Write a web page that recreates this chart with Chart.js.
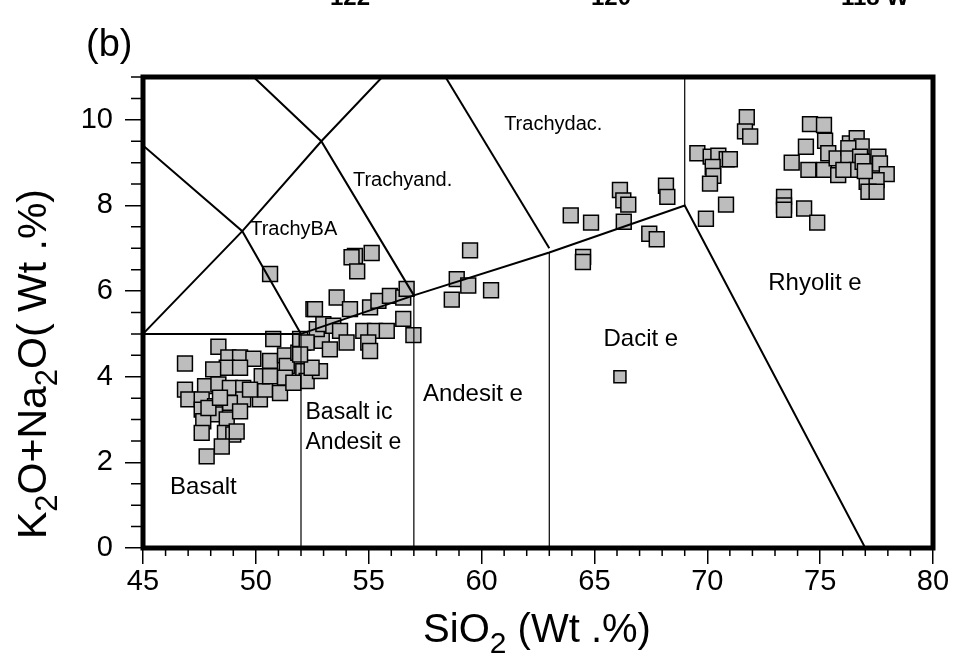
<!DOCTYPE html>
<html>
<head>
<meta charset="utf-8">
<script src="https://cdn.jsdelivr.net/npm/chart.js@4.4.1/dist/chart.umd.min.js"></script>
<style>
  html, body { margin: 0; padding: 0; background: #fff; }
</style>
</head>
<body>
<canvas id="tas" width="956" height="657"></canvas>
<script>
// sample analyses: SiO2 (wt.%) and K2O+Na2O (wt.%)
const sio2 = [
  48.34, 46.86, 48.78, 49.3, 49.89, 50.63, 51.29, 51.37, 51.88, 52.1, 52.1, 52.25, 52.84, 52.92, 52.7, 50.77,
  48.71, 48.11, 47.75, 46.86, 47.01, 47.6, 48.34, 48.85, 49.44, 49.44, 48.85, 48.19, 47.6, 48.19, 47.67, 48.71,
  49.3, 50.18, 50.41, 51.07, 50.26, 50.63, 51.29, 51.66, 47.6, 48.63, 49.0, 48.49, 47.82, 47.9, 49.15, 48.41,
  49.3, 49.74, 52.47,
  55.13, 54.39, 54.24, 54.49, 59.49, 58.9, 59.41, 58.68, 53.58, 52.55, 54.17, 55.06, 55.43, 55.94, 56.53, 56.68,
  56.53, 56.98, 52.99, 53.43, 53.73, 54.76, 55.28, 55.8, 54.02, 54.98, 55.06, 53.28, 51.96, 52.25, 51.96, 52.62,
  50.63, 60.42,
  66.13, 66.28, 66.5, 68.17, 68.23, 63.95, 64.85, 66.3, 67.43, 67.76, 64.5, 64.49,
  71.75, 71.67, 71.9, 69.56, 70.15, 70.49, 70.86, 71.0, 70.24, 70.27, 70.12, 70.83, 69.94,
  74.55, 75.17, 74.37, 75.22, 73.74, 74.48, 75.17, 75.36, 75.73, 75.8, 76.32, 76.62, 76.84, 76.25, 76.25, 76.77,
  76.62, 76.88, 77.58, 77.65, 77.95, 77.06, 77.5, 77.14, 77.5, 76.98, 76.03, 73.4, 73.4, 73.4, 74.29, 74.87
];
const alkali = [
  4.70, 4.31, 4.45, 4.45, 4.42, 4.37, 4.5, 4.25, 4.56, 4.80, 4.13, 3.9, 4.13, 4.84, 5.11, 4.88,
  4.21, 4.17, 3.78, 3.70, 3.47, 3.47, 3.82, 3.74, 3.74, 3.47, 3.39, 3.31, 3.23, 3.12, 2.96, 3.0,
  3.19, 3.47, 3.70, 3.62, 4.01, 4.01, 3.98, 3.86, 2.69, 2.69, 2.65, 2.37, 2.14, 3.27, 2.72, 3.51,
  4.21, 3.70, 4.21,
  6.89, 6.82, 6.79, 6.46, 6.95, 6.28, 6.13, 5.80, 5.85, 5.58, 5.58, 5.62, 5.77, 5.89, 5.85, 6.05,
  5.35, 4.97, 5.23, 5.19, 5.07, 5.07, 5.07, 5.07, 4.80, 4.80, 4.60, 4.64, 4.88, 4.80, 4.52, 5.58,
  6.4, 6.02,
  8.36, 8.12, 8.02, 8.46, 8.2, 7.77, 7.60, 7.62, 7.34, 7.21, 6.80, 6.68,
  10.06, 9.73, 9.61, 9.22, 9.14, 9.16, 9.08, 9.08, 8.9, 8.69, 8.51, 8.02, 7.69,
  9.9, 9.88, 9.37, 9.51, 9.0, 8.83, 8.83, 9.22, 9.10, 8.71, 9.45, 9.57, 9.38, 9.34, 9.1, 9.14,
  8.83, 9.02, 9.14, 8.98, 8.73, 8.55, 8.59, 8.32, 8.32, 8.80, 8.83, 8.2, 8.0, 7.9, 7.93, 7.6
];
// the lone low-alkali dacite, drawn with a smaller symbol
const daciteSio2 = [66.13];
const daciteAlkali = [4.0];

// TAS field boundaries, each a polyline of [SiO2, alkali]
const thickLines = [
  [[45, 5], [52, 5]],
  [[45, 5], [49.4, 7.4], [52.9, 9.5], [55.6, 11]],
  [[45, 9.4], [49.4, 7.4], [52, 5]],
  [[49.9, 11], [52.9, 9.5], [57, 5.9]],
  [[58.4, 11], [63, 7]],
  [[52, 5], [57, 5.9], [63, 6.9], [69, 8], [77, 0]]
];
const thinLines = [
  [[52, 0], [52, 5]],
  [[57, 0], [57, 5.9]],
  [[63, 0], [63, 6.9]],
  [[69, 8], [69, 11]]
];

// field names and where they sit (left edge, vertical centre)
const fieldNames = ['Basalt', 'Basalt ic', 'Andesit e', 'Andesit e', 'Dacit e', 'Rhyolit e', 'TrachyBA', 'Trachyand.', 'Trachydac.'];
const fieldX = [46.2, 52.2, 52.2, 57.4, 65.4, 72.7, 49.75, 54.3, 61.0];
const fieldY = [1.42, 3.16, 2.46, 3.58, 4.88, 6.17, 7.45, 8.58, 9.9];
const fieldFontPx = [24, 23, 23, 24, 24, 24, 20, 20, 20];

const xTicks = [45, 50, 55, 60, 65, 70, 75, 80];
const yTicks = [0, 2, 4, 6, 8, 10];
const mapLabels = ['122', '120', '118 W'];

const FONT = '"Liberation Sans", Arial, Helvetica, sans-serif';

function toXY(line) {
  return line.map(p => ({ x: p[0], y: p[1] }));
}

function drawRich(ctx, parts, x, y, size) {
  const big = size + 'px ' + FONT;
  const small = Math.round(size * 0.75) + 'px ' + FONT;
  let w = 0;
  parts.forEach(p => { ctx.font = p[1] ? small : big; w += ctx.measureText(p[0]).width; });
  let cx = x - w / 2;
  ctx.textAlign = 'left';
  ctx.textBaseline = 'alphabetic';
  parts.forEach(p => {
    ctx.font = p[1] ? small : big;
    ctx.fillText(p[0], cx, p[1] ? y + size * 0.27 : y);
    cx += ctx.measureText(p[0]).width;
  });
}

const decorations = {
  id: 'decorations',
  afterDraw(chart) {
    const { ctx, chartArea: a, scales } = chart;
    const xs = scales.x, ys = scales.y;
    ctx.save();
    ctx.fillStyle = '#000';
    ctx.strokeStyle = '#000';

    // minor ticks
    ctx.lineWidth = 1.5;
    ctx.beginPath();
    for (let v = 45; v <= 80; v += 1) {
      if (v % 5 === 0) continue;
      const px = xs.getPixelForValue(v);
      ctx.moveTo(px, a.bottom);
      ctx.lineTo(px, a.bottom + 8);
    }
    for (let v = 0.5; v <= 11; v += 0.5) {
      if (v % 2 === 0) continue;
      const py = ys.getPixelForValue(v);
      ctx.moveTo(a.left, py);
      ctx.lineTo(a.left - 12, py);
    }
    ctx.stroke();

    // heavy frame
    ctx.lineWidth = 5;
    ctx.strokeRect(a.left, a.top, a.right - a.left, a.bottom - a.top);

    // field names
    ctx.textAlign = 'left';
    ctx.textBaseline = 'middle';
    fieldNames.forEach((n, i) => {
      ctx.font = fieldFontPx[i] + 'px ' + FONT;
      ctx.fillText(n, xs.getPixelForValue(fieldX[i]), ys.getPixelForValue(fieldY[i]));
    });

    // axis titles with subscripts
    drawRich(ctx, [['SiO', 0], ['2', 1], [' (Wt .%)', 0]], 537, 642, 40);
    ctx.save();
    ctx.translate(46, 364);
    ctx.rotate(-Math.PI / 2);
    drawRich(ctx, [['K', 0], ['2', 1], ['O+Na', 0], ['2', 1], ['O( Wt .%)', 0]], 0, 0, 41);
    ctx.restore();

    // panel letter
    ctx.font = '38px ' + FONT;
    ctx.textAlign = 'left';
    ctx.textBaseline = 'middle';
    ctx.fillText('(b)', 86, 46);

    // bottom edge of the map labels cut off above
    ctx.font = 'bold 24px ' + FONT;
    ctx.textAlign = 'center';
    ctx.textBaseline = 'alphabetic';
    const mx = [350, 611, 875];
    mapLabels.forEach((t, i) => ctx.fillText(t, mx[i], 5));
    ctx.restore();
  }
};

const lineStyle = (w) => ({
  showLine: true, pointRadius: 0, borderColor: '#000', borderWidth: w, fill: false, tension: 0
});

const datasets = [];
thickLines.forEach(l => datasets.push(Object.assign({ data: toXY(l) }, lineStyle(2))));
thinLines.forEach(l => datasets.push(Object.assign({ data: toXY(l) }, lineStyle(1.2))));
datasets.push({
  data: daciteSio2.map((x, i) => ({ x, y: daciteAlkali[i] })),
  pointStyle: 'rect', pointRadius: 8.5, backgroundColor: '#bdbdbd', borderColor: '#000', borderWidth: 1.5
});
datasets.push({
  data: sio2.map((x, i) => ({ x, y: alkali[i] })),
  pointStyle: 'rect', pointRadius: 10.5, backgroundColor: '#bdbdbd', borderColor: '#000', borderWidth: 1.5
});

new Chart(document.getElementById('tas'), {
  type: 'scatter',
  data: { datasets },
  options: {
    responsive: false,
    animation: false,
    devicePixelRatio: 1,
    layout: { padding: { top: 77, right: 23, left: 0, bottom: 0 } },
    plugins: { legend: { display: false }, tooltip: { enabled: false } },
    scales: {
      x: {
        type: 'linear', min: 45, max: 80,
        afterFit: s => { s.height = 109; },
        afterBuildTicks: s => { s.ticks = xTicks.map(v => ({ value: v })); },
        grid: { drawOnChartArea: false, drawTicks: true, tickLength: 16, color: '#000', lineWidth: 1.5 },
        border: { display: false },
        ticks: { color: '#000', font: { size: 29, family: FONT }, padding: 1, autoSkip: false, maxRotation: 0 }
      },
      y: {
        type: 'linear', min: 0, max: 11,
        afterFit: s => { s.width = 143; },
        afterBuildTicks: s => { s.ticks = yTicks.map(v => ({ value: v })); },
        grid: { drawOnChartArea: false, drawTicks: true, tickLength: 18, color: '#000', lineWidth: 1.5 },
        border: { display: false },
        ticks: { color: '#000', font: { size: 29, family: FONT }, padding: 12 }
      }
    }
  },
  plugins: [decorations]
});
</script>
</body>
</html>
